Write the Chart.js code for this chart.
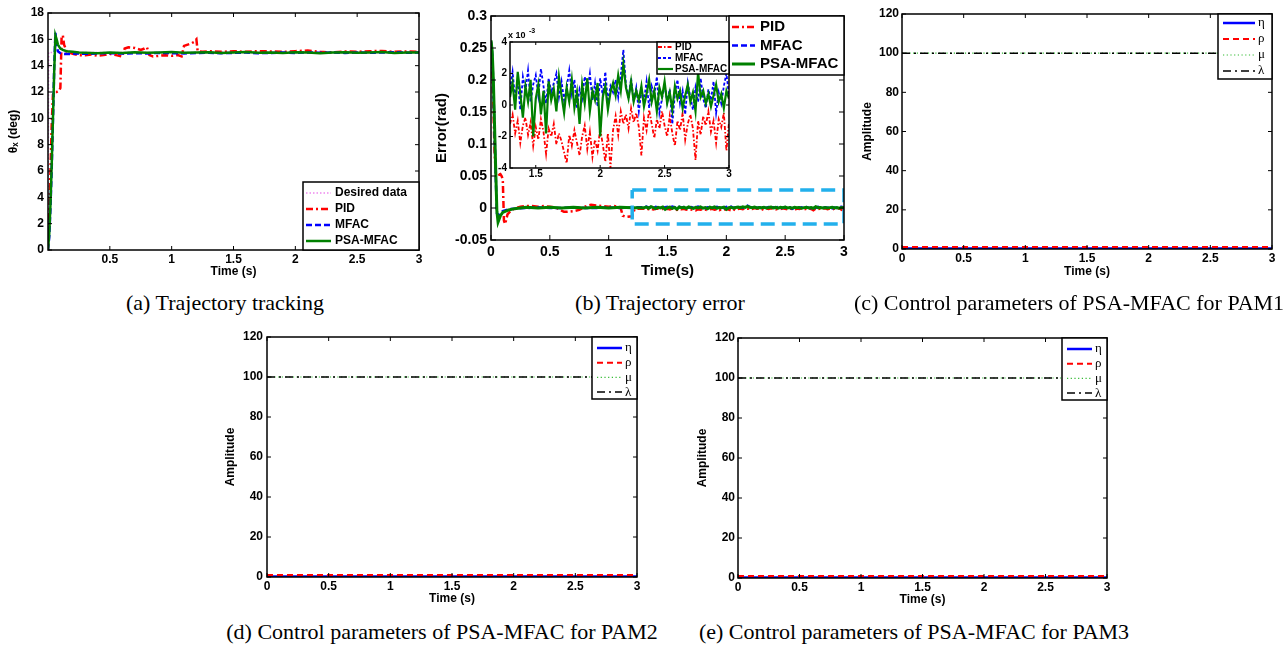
<!DOCTYPE html>
<html>
<head>
<meta charset="utf-8">
<script src="https://cdn.jsdelivr.net/npm/chart.js@4.4.0/dist/chart.umd.min.js"></script>
<style>
  body { margin: 0; background: #fff; width: 1286px; height: 647px; position: relative; overflow: hidden; }
  canvas { position: absolute; }
  .cap { position: absolute; font-family: "Liberation Serif", "Times New Roman", serif; font-size: 22px; color: #000;
         transform: translate(-50%, -50%); white-space: nowrap; line-height: 1; }
</style>
</head>
<body>
<canvas id="pa"></canvas>
<canvas id="pb"></canvas>
<canvas id="pinset"></canvas>
<canvas id="pc"></canvas>
<canvas id="pd"></canvas>
<canvas id="pe"></canvas>
<div class="cap" style="left:225px;top:303px">(a) Trajectory tracking</div>
<div class="cap" style="left:660px;top:303px">(b) Trajectory error</div>
<div class="cap" style="left:1069px;top:303px">(c) Control parameters of PSA-MFAC for PAM1</div>
<div class="cap" style="left:442px;top:632px">(d) Control parameters of PSA-MFAC for PAM2</div>
<div class="cap" style="left:914px;top:632px">(e) Control parameters of PSA-MFAC for PAM3</div>
<script>
// ---- (a) trajectory tracking, theta_x in deg ----
const aDesiredT = [0, 0.005, 3];
const aDesired = [0, 15, 15];
const aPidT = [0,0.01,0.02,0.03,0.04,0.05,0.07,0.09,0.1,0.11,0.12,0.13,0.15,0.2,0.25,0.3,0.35,0.4,0.45,0.5,
  0.55,0.6,0.62,0.65,0.7,0.75,0.78,0.8,0.82,0.85,0.9,0.95,1.0,1.05,1.08,1.1,1.13,1.16,1.18,1.2,
  1.21,1.25,1.3,1.4,1.5,1.6,1.7,1.8,1.9,2.0,2.1,2.2,2.3,2.4,2.5,2.6,2.7,2.8,2.9,3.0];
const aPid = [0,2.5,6,9.5,11.8,12,12,12.1,12.3,16.2,16.3,15.6,15.1,14.9,14.8,14.8,14.85,14.75,14.8,14.9,
  14.8,14.7,15.3,15.4,15.35,15.2,15.3,15.4,14.8,14.7,14.75,14.8,14.75,14.8,14.7,15.5,15.6,15.7,15.8,16.0,
  15.1,15.05,15.1,15.05,15.1,15.05,15.1,15.08,15.05,15.1,15.15,15.05,15.0,15.08,15.05,15.1,15.12,15.05,15.08,15.05];
const aT = [0,0.01,0.02,0.03,0.04,0.05,0.06,0.07,0.08,0.1,0.12,0.15,0.2,0.25,0.3,0.4,0.5,0.6,0.7,0.8,
  0.9,1.0,1.1,1.2,1.3,1.4,1.5,1.6,1.7,1.8,1.9,2.0,2.1,2.2,2.3,2.4,2.5,2.6,2.7,2.8,2.9,3.0];
const aMfac = [0,1.0,3.2,6.2,9.8,13.8,16.5,15.5,15.1,14.95,14.9,14.88,14.9,14.92,14.9,14.93,14.95,14.92,14.95,14.93,
  14.97,14.95,14.93,14.96,14.98,14.95,14.97,15.0,14.95,14.97,15.0,14.97,15.0,14.98,15.0,14.97,15.0,14.98,15.0,15.02,14.98,15.0];
const aPsa = [0,1.2,3.5,6.5,10,13.5,16.3,16.0,15.6,15.3,15.2,15.1,15.05,15.0,14.98,14.95,15.0,14.97,15.02,14.98,
  15.0,15.03,14.98,15.0,15.02,14.97,15.0,15.03,14.98,15.0,14.96,15.02,15.0,14.95,15.0,15.02,14.98,15.0,15.03,14.97,15.0,15.0];

// ---- (b) trajectory error in rad, start of run ----
const bEarlyT = [0,0.01,0.02,0.03,0.04,0.05,0.06,0.08,0.1,0.15,0.2,0.3,0.4,0.5,0.6,0.7,0.8,0.9,1.0,1.1,1.2];
const bPsaEarly = [0.262,0.245,0.2,0.13,0.06,-0.005,-0.022,-0.012,-0.007,-0.003,-0.001,0.001,0,0.001,0,0.001,0,0.001,0,0.001,0.0005];
const bMfacEarly = [0.26,0.24,0.19,0.12,0.05,-0.008,-0.012,-0.008,-0.005,-0.002,-0.001,0,0.001,0,0,0.001,0,0,0.001,0,0.001];
const bPidEarlyT = [0,0.01,0.02,0.03,0.04,0.05,0.06,0.07,0.08,0.09,0.1,0.11,0.12,0.14,0.17,0.2,0.25,0.3,0.35,0.4,
  0.45,0.5,0.55,0.6,0.62,0.65,0.7,0.75,0.8,0.82,0.85,0.9,0.95,1.0,1.05,1.1,1.12,1.15,1.2,1.22,1.25];
const bPidEarly = [0.26,0.22,0.16,0.09,0.055,0.053,0.054,0.052,0.053,0.05,0.045,-0.02,-0.025,-0.01,-0.004,-0.001,0.002,0.003,0.003,0.002,
  0.003,0.002,0.001,-0.004,-0.006,-0.006,-0.005,-0.003,0.002,0.004,0.005,0.004,0.003,0.002,0.003,0.001,-0.012,-0.014,-0.013,-0.002,-0.001];
// zoom box drawn on (b)
const boxT = [1.2, 3, 3, 1.2, 1.2];
const boxE = [0.028, 0.028, -0.025, -0.025, 0.028];

// ---- inset of (b), error x 10^-3 rad, 1.3 s .. 3 s ----
const insetT = [1.30,1.32,1.34,1.36,1.38,1.40,1.42,1.44,1.46,1.48,
  1.50,1.52,1.54,1.56,1.58,1.60,1.62,1.64,1.66,1.68,
  1.70,1.72,1.74,1.76,1.78,1.80,1.82,1.84,1.86,1.88,
  1.90,1.92,1.94,1.96,1.98,2.00,2.02,2.04,2.06,2.08,
  2.10,2.12,2.14,2.16,2.18,2.20,2.22,2.24,2.26,2.28,
  2.30,2.32,2.34,2.36,2.38,2.40,2.42,2.44,2.46,2.48,
  2.50,2.52,2.54,2.56,2.58,2.60,2.62,2.64,2.66,2.68,
  2.70,2.72,2.74,2.76,2.78,2.80,2.82,2.84,2.86,2.88,
  2.90,2.92,2.94,2.96,2.98,3.00];
const insetPid = [-1.2,-0.6,-1.8,-1.0,-2.4,-1.3,-0.8,-1.9,-1.1,-2.6,
  -1.4,-2.2,-0.9,-1.7,-3.1,-1.5,-2.0,-1.2,-2.5,-1.8,
  -2.3,-3.0,-3.7,-1.9,-2.6,-1.6,-2.4,-3.2,-2.0,-1.3,
  -2.8,-1.7,-3.3,-2.2,-2.9,-1.5,-2.5,-3.6,-1.8,-4.0,
  -1.6,-0.7,-1.9,-0.4,-1.2,-0.6,-1.5,-0.2,-1.1,-0.5,
  -1.4,-3.2,-0.8,-1.6,-0.3,-1.2,-2.1,-0.9,-1.5,-0.4,
  -1.3,-2.0,-0.7,-1.8,-2.6,-1.0,-1.6,-0.5,-2.2,-1.2,
  -0.6,-1.5,-3.5,-1.0,-1.9,-0.7,-1.3,-0.4,-1.7,-1.0,
  -2.4,-0.9,-1.4,-0.5,-2.9,-1.1];
const insetMfac = [1.0,2.1,0.4,1.6,-0.3,1.8,0.9,2.2,0.2,1.3,
  1.9,0.6,2.3,1.2,0.1,1.7,0.8,1.4,2.0,0.5,
  1.5,0.3,1.1,2.2,0.7,1.6,-0.2,1.0,0.4,1.8,
  0.9,2.0,0.3,1.4,-0.1,1.7,0.6,2.1,0.2,1.2,
  0.8,1.6,0.5,1.9,3.5,1.3,0.4,1.7,0.2,1.1,
  -0.4,0.9,0.3,1.5,-0.2,1.2,0.6,1.8,-0.5,0.4,
  1.3,0.2,1.0,-1.2,0.7,1.6,0.1,0.9,-0.6,1.4,
  0.5,-0.3,1.1,0.2,1.7,0.4,-0.2,1.0,0.3,1.5,
  -0.5,0.8,0.1,1.2,2.0,0.6];
const insetPsa = [0.5,1.4,-0.3,2.1,0.7,-0.8,1.2,0.2,1.6,-2.0,
  0.4,1.3,-0.6,0.9,-1.8,1.5,0.3,1.0,-0.4,1.8,
  0.6,-0.5,1.1,0.2,1.6,-0.2,0.8,-1.2,1.3,0.1,
  1.7,-0.4,0.9,0.3,1.4,-2.0,0.5,1.2,-0.3,0.8,
  1.4,0.6,1.9,0.9,2.6,1.1,0.4,1.5,0.2,0.9,
  0.3,1.2,-0.1,0.7,1.6,0.2,0.9,-0.4,1.1,0.5,
  1.5,0.1,0.8,-0.3,1.2,0.4,0.9,-0.2,0.6,1.3,
  0.2,0.8,-0.4,2.1,0.5,0.9,0.1,0.7,-0.1,0.6,
  1.3,0.2,0.7,-0.2,0.9,0.4];

// ---- (c)(d)(e) control parameters ----
const parT = [0, 3];
const parEta = [0.2, 0.2];
const parRho = [1, 1];
const parMu = [100, 100];
const parLambda = [100, 100];

// tick labels
const aXTicks = [0.5, 1, 1.5, 2, 2.5, 3];
const aYTicks = [0, 2, 4, 6, 8, 10, 12, 14, 16, 18];
const bXTicks = [0, 0.5, 1, 1.5, 2, 2.5, 3];
const bYTicks = [-0.05, 0, 0.05, 0.1, 0.15, 0.2, 0.25, 0.3];
const insetXTicks = [1.5, 2, 2.5, 3];
const insetYTicks = [-4, -2, 0, 2, 4];
const parXTicks = [0, 0.5, 1, 1.5, 2, 2.5, 3];
const parYTicks = [0, 20, 40, 60, 80, 100, 120];

const FAM = '"Liberation Sans", Arial, sans-serif';
const fmt = v => String(Math.round(v * 1000) / 1000);

function line(label, xs, ys, color, width, dash, order, extra) {
  return Object.assign({
    label, data: xs.map((x, i) => ({x, y: ys[i]})),
    borderColor: color, backgroundColor: color, borderWidth: width, borderDash: dash,
    pointRadius: 0, fill: false, tension: 0, order
  }, extra || {});
}

// box around the axes with inward ticks on all four sides
const frame = {
  id: 'frame',
  beforeDatasetsDraw(chart, args, o) {
    if (!o.fill) return;
    const {ctx, chartArea: ca} = chart;
    ctx.save();
    ctx.fillStyle = '#fff';
    ctx.fillRect(ca.left, ca.top, ca.right - ca.left, ca.bottom - ca.top);
    ctx.restore();
  },
  afterDatasetsDraw(chart, args, o) {
    const {ctx, chartArea: ca, scales} = chart;
    const tl = o.tick;
    ctx.save();
    ctx.strokeStyle = '#000';
    ctx.lineWidth = 1;
    ctx.beginPath();
    scales.x.ticks.forEach(t => {
      const px = scales.x.getPixelForValue(t.value);
      ctx.moveTo(px, ca.bottom); ctx.lineTo(px, ca.bottom - tl);
      ctx.moveTo(px, ca.top); ctx.lineTo(px, ca.top + tl);
    });
    scales.y.ticks.forEach(t => {
      const py = scales.y.getPixelForValue(t.value);
      ctx.moveTo(ca.left, py); ctx.lineTo(ca.left + tl, py);
      ctx.moveTo(ca.right, py); ctx.lineTo(ca.right - tl, py);
    });
    ctx.stroke();
    ctx.lineWidth = o.lw;
    ctx.strokeRect(ca.left, ca.top, ca.right - ca.left, ca.bottom - ca.top);
    if (o.exp) {
      ctx.fillStyle = '#000';
      ctx.textBaseline = 'alphabetic';
      ctx.font = 'bold 9px ' + FAM;
      ctx.fillText('x 10', ca.left - 2, ca.top - 4);
      ctx.font = 'bold 7px ' + FAM;
      ctx.fillText('-3', ca.left + 19, ca.top - 9);
    }
    ctx.restore();
  }
};

// MATLAB style legend box inside the axes
const boxLegend = {
  id: 'boxLegend',
  afterDatasetsDraw(chart, args, o) {
    if (!o.w) return;
    const {ctx, chartArea: ca} = chart;
    const x0 = ca.right - o.w;
    const y0 = o.atBottom ? ca.bottom - o.h : ca.top;
    ctx.save();
    ctx.fillStyle = '#fff';
    ctx.fillRect(x0, y0, o.w, o.h);
    ctx.strokeStyle = '#000';
    ctx.lineWidth = o.lw;
    ctx.strokeRect(x0, y0, o.w, o.h);
    ctx.font = o.font;
    ctx.textBaseline = 'middle';
    ctx.textAlign = 'left';
    let k = 0;
    chart.data.datasets.forEach(ds => {
      if (ds.noLegend) return;
      const y = y0 + o.first + k * o.step;
      k++;
      ctx.beginPath();
      ctx.setLineDash(ds.borderDash || []);
      ctx.strokeStyle = ds.borderColor;
      ctx.lineWidth = ds.borderWidth;
      ctx.moveTo(x0 + o.l0, y);
      ctx.lineTo(x0 + o.l1, y);
      ctx.stroke();
      ctx.setLineDash([]);
      ctx.fillStyle = '#000';
      ctx.fillText(ds.label, x0 + o.tx, y);
    });
    ctx.restore();
  }
};

function makeChart(id, f, c) {
  const cv = document.getElementById(id);
  cv.width = f.R + f.padR - f.cl;
  cv.height = f.B + f.xH - f.ct;
  cv.style.left = f.cl + 'px';
  cv.style.top = f.ct + 'px';
  const tf = {family: FAM, size: c.tickSize, weight: 'bold'};
  const tt = {family: FAM, size: c.titleSize, weight: 'bold'};
  const axis = (ticks, min, max, pad) => ({
    type: 'linear', min, max,
    grid: {display: false, drawTicks: false}, border: {display: false},
    afterBuildTicks: s => { s.ticks = ticks.map(v => ({value: v})); },
    ticks: {font: tf, color: '#000', padding: pad, autoSkip: false, maxRotation: 0, callback: fmt}
  });
  const x = axis(c.xTicks, c.xMin, c.xMax, c.xPad);
  x.afterFit = s => { s.height = f.xH; };
  x.title = c.xTitle ? {display: true, text: c.xTitle, font: tt, color: '#000', padding: {top: 0, bottom: c.xTitlePad}} : {display: false};
  const y = axis(c.yTicks, c.yMin, c.yMax, c.yPad);
  y.afterFit = s => { s.width = f.L - f.cl; };
  y.title = c.yTitle ? {display: true, text: c.yTitle, font: tt, color: '#000', padding: {top: c.yTitlePad, bottom: 0}} : {display: false};
  return new Chart(cv, {
    type: 'line',
    data: {datasets: c.datasets},
    options: {
      responsive: false, animation: false, devicePixelRatio: 1,
      layout: {padding: {left: 0, top: f.T - f.ct, right: f.padR, bottom: 0}},
      scales: {x, y},
      plugins: {
        legend: {display: false}, tooltip: {enabled: false},
        frame: c.frame, boxLegend: c.legend
      }
    },
    plugins: [frame, boxLegend]
  });
}

const RED = '#ff0000', BLUE = '#0000ff', GREEN = '#008000';

// (a)
makeChart('pa', {cl: 0, ct: 0, L: 48, T: 13, R: 419, B: 250, xH: 30, padR: 10}, {
  tickSize: 12, titleSize: 12, xMin: 0, xMax: 3, yMin: 0, yMax: 18,
  xTicks: aXTicks, yTicks: aYTicks, xPad: 2, yPad: 4,
  xTitle: 'Time (s)', xTitlePad: 1, yTitle: 'θₓ (deg)', yTitlePad: 6,
  frame: {tick: 4, lw: 1.5},
  legend: {w: 116, h: 68, atBottom: true, first: 11, step: 16, l0: 3, l1: 28, tx: 32, lw: 1.5, font: 'bold 12px ' + FAM},
  datasets: [
    line('Desired data', aDesiredT, aDesired, '#ee88ee', 1.5, [1.5, 2], 3),
    line('PID', aPidT, aPid, RED, 2.5, [7, 3, 2, 3], 2),
    line('MFAC', aT, aMfac, BLUE, 2.5, [6, 3], 1),
    line('PSA-MFAC', aT, aPsa, GREEN, 2.5, [], 0)
  ]
});

// (b)
const scaleInset = arr => arr.map(v => v / 1000);
makeChart('pb', {cl: 430, ct: 0, L: 491, T: 16, R: 844, B: 240, xH: 45, padR: 12}, {
  tickSize: 14, titleSize: 15, xMin: 0, xMax: 3, yMin: -0.05, yMax: 0.3,
  xTicks: bXTicks, yTicks: bYTicks, xPad: 4, yPad: 4,
  xTitle: 'Time(s)', xTitlePad: 5, yTitle: 'Error(rad)', yTitlePad: 3,
  frame: {tick: 5, lw: 1.5},
  legend: {w: 115, h: 59, first: 11, step: 18.5, l0: 3, l1: 26, tx: 31, lw: 1.5, font: 'bold 15px ' + FAM},
  datasets: [
    line('PID', bPidEarlyT.concat(insetT), bPidEarly.concat(scaleInset(insetPid)), RED, 2.5, [7, 3, 2, 3], 2),
    line('MFAC', bEarlyT.concat(insetT), bMfacEarly.concat(scaleInset(insetMfac)), BLUE, 2.5, [6, 3], 1),
    line('PSA-MFAC', bEarlyT.concat(insetT), bPsaEarly.concat(scaleInset(insetPsa)), GREEN, 3, [], 0),
    line('zoom', boxT, boxE, '#22b0ec', 3.5, [14, 7], -1, {noLegend: true})
  ]
});

// inset of (b)
makeChart('pinset', {cl: 485, ct: 28, L: 510, T: 42, R: 729, B: 168, xH: 14, padR: 8}, {
  tickSize: 10, titleSize: 10, xMin: 1.3, xMax: 3, yMin: -4, yMax: 4,
  xTicks: insetXTicks, yTicks: insetYTicks, xPad: 0, yPad: 3,
  frame: {tick: 3, lw: 1.5, fill: true, exp: true},
  legend: {w: 72, h: 32, first: 5, step: 11, l0: 1, l1: 16, tx: 18, lw: 1.5, font: 'bold 10px ' + FAM},
  datasets: [
    line('PID', insetT, insetPid, RED, 1.8, [4, 2, 1.5, 2], 2),
    line('MFAC', insetT, insetMfac, BLUE, 1.8, [3, 2], 1),
    line('PSA-MFAC', insetT, insetPsa, GREEN, 2.2, [], 0)
  ]
});

// (c)(d)(e)
function paramChart(id, f, leg) {
  makeChart(id, f, {
    tickSize: 12, titleSize: 12, xMin: 0, xMax: 3, yMin: 0, yMax: 120,
    xTicks: parXTicks, yTicks: parYTicks, xPad: f.xPad, yPad: f.yPad,
    xTitle: 'Time (s)', xTitlePad: f.xTitlePad, yTitle: 'Amplitude', yTitlePad: f.yTitlePad,
    frame: {tick: 4, lw: 1.5},
    legend: leg,
    datasets: [
      line('η', parT, parEta, BLUE, 2.5, [], 1),
      line('ρ', parT, parRho, RED, 2, [6, 4], 0),
      line('μ', parT, parMu, '#33bb33', 1.2, [1.2, 2.5], 3),
      line('λ', parT, parLambda, '#000000', 1.5, [8, 4, 2, 4], 2)
    ]
  });
}
const serifLeg = '13px "Liberation Serif", "Times New Roman", serif';
paramChart('pc', {cl: 850, ct: 0, L: 902, T: 14, R: 1272, B: 249, xH: 31, padR: 12, xPad: 2, yPad: 3, xTitlePad: 1, yTitlePad: 10},
  {w: 54, h: 65, first: 9, step: 16, l0: 5, l1: 37, tx: 40, lw: 1.5, font: serifLeg});
paramChart('pd', {cl: 215, ct: 325, L: 267, T: 337, R: 637, B: 577, xH: 31, padR: 12, xPad: 2.5, yPad: 4, xTitlePad: 2.5, yTitlePad: 8.5},
  {w: 45, h: 62, first: 11, step: 14.7, l0: 5, l1: 30, tx: 33, lw: 1.5, font: serifLeg});
paramChart('pe', {cl: 686, ct: 325, L: 738, T: 338, R: 1107, B: 578, xH: 31, padR: 12, xPad: 2, yPad: 3, xTitlePad: 2.5, yTitlePad: 9.5},
  {w: 45, h: 62, first: 11, step: 14.7, l0: 5, l1: 30, tx: 33, lw: 1.5, font: serifLeg});
</script>
</body>
</html>
